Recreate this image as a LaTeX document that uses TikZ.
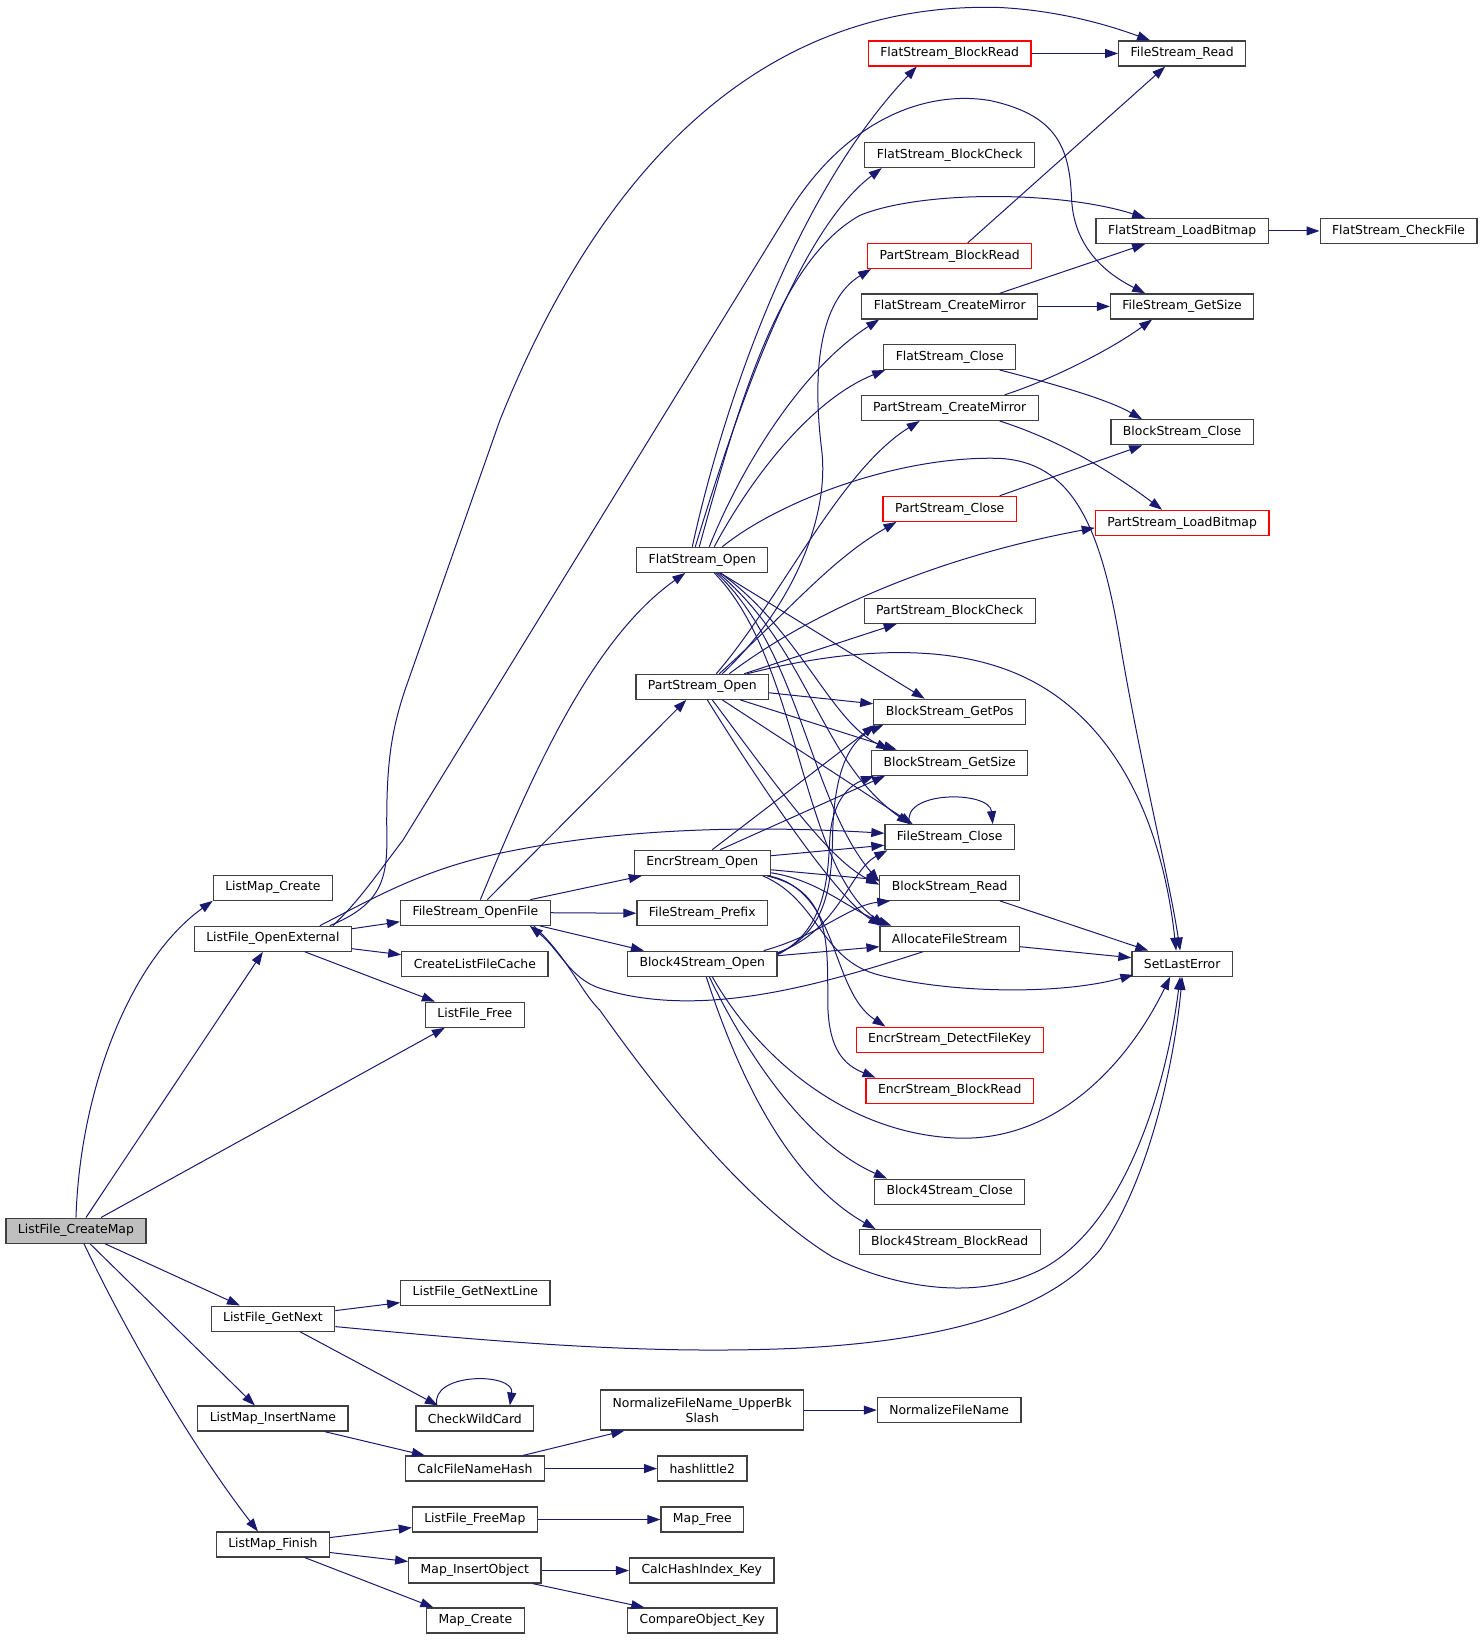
\documentclass[tikz,border=0pt]{standalone}
\usepackage{fontspec}
\setmainfont{DejaVu Sans}
\usetikzlibrary{arrows.meta,calc}
\definecolor{edgeblue}{HTML}{191970}
\definecolor{boxgray}{HTML}{404040}
\definecolor{rootfill}{HTML}{BFBFBF}
\begin{document}
\begin{tikzpicture}[x=0.5pt,y=-0.5pt,
  fnbox/.style={draw=boxgray, line width=0.6pt, fill=white, inner xsep=6pt, inner ysep=0pt,
    minimum height=12.5pt, font=\fontsize{6.2pt}{7.4pt}\selectfont, text=black},
  fnred/.style={fnbox, draw=red},
  fnroot/.style={fnbox, fill=rootfill},
  calledge/.style={draw=edgeblue, line width=0.5pt, -{Triangle[length=6.5pt,width=4.5pt]}}]
\fill[white] (0,0) rectangle (1484,1640);
% ---- nodes
\node[fnroot] (cm) at (76,1230.5) {ListFile\_CreateMap};
\node[fnbox] (lmc) at (273,887.5) {ListMap\_Create};
\node[fnbox] (loe) at (273,938.5) {ListFile\_OpenExternal};
\node[fnbox] (fso) at (475.5,912.5) {FileStream\_OpenFile};
\node[fnbox] (clc) at (475,963.5) {CreateListFileCache};
\node[fnbox] (lff) at (475,1014.5) {ListFile\_Free};
\node[fnbox] (eo) at (702.5,862.5) {EncrStream\_Open};
\node[fnbox] (fsp) at (702.5,913) {FileStream\_Prefix};
\node[fnbox] (b4o) at (702.5,963.5) {Block4Stream\_Open};
\node[fnbox] (fo) at (702.5,559.5) {FlatStream\_Open};
\node[fnbox] (po) at (702.5,686.5) {PartStream\_Open};
\node[fnred] (fbr) at (950,53) {FlatStream\_BlockRead};
\node[fnbox] (fbc) at (950,154.5) {FlatStream\_BlockCheck};
\node[fnred] (pbr) at (950,255.5) {PartStream\_BlockRead};
\node[fnbox] (fcm) at (950,306) {FlatStream\_CreateMirror};
\node[fnbox] (fcl) at (950,356.5) {FlatStream\_Close};
\node[fnbox] (pcm) at (950,407.5) {PartStream\_CreateMirror};
\node[fnred] (pcl) at (950,508.5) {PartStream\_Close};
\node[fnbox] (pbc) at (950,610.5) {PartStream\_BlockCheck};
\node[fnbox] (bgp) at (950,711.5) {BlockStream\_GetPos};
\node[fnbox] (bgs) at (950,762.5) {BlockStream\_GetSize};
\node[fnbox] (fcl2) at (950,837) {FileStream\_Close};
\node[fnbox] (brd) at (950,887.5) {BlockStream\_Read};
\node[fnbox] (afs) at (950,938.5) {AllocateFileStream};
\node[fnred] (edk) at (950,1039.5) {EncrStream\_DetectFileKey};
\node[fnred] (ebr) at (950,1090.5) {EncrStream\_BlockRead};
\node[fnbox] (b4c) at (950,1191.5) {Block4Stream\_Close};
\node[fnbox] (b4r) at (950,1242) {Block4Stream\_BlockRead};
\node[fnbox] (fsr) at (1182.5,53) {FileStream\_Read};
\node[fnbox] (flb) at (1182.5,230.5) {FlatStream\_LoadBitmap};
\node[fnbox] (fcf) at (1399,230.5) {FlatStream\_CheckFile};
\node[fnbox] (fgs) at (1182.5,306) {FileStream\_GetSize};
\node[fnbox] (bcl) at (1182.5,432) {BlockStream\_Close};
\node[fnred] (plb) at (1182.5,522.5) {PartStream\_LoadBitmap};
\node[fnbox] (sle) at (1182.5,963.5) {SetLastError};
\node[fnbox] (lgn) at (273,1318.5) {ListFile\_GetNext};
\node[fnbox] (lmi) at (273,1418.5) {ListMap\_InsertName};
\node[fnbox] (lmf) at (273,1544.5) {ListMap\_Finish};
\node[fnbox] (lgl) at (475.5,1292.5) {ListFile\_GetNextLine};
\node[fnbox] (cwc) at (475,1418.5) {CheckWildCard};
\node[fnbox] (cfh) at (475,1468.5) {CalcFileNameHash};
\node[fnbox] (lfm) at (475,1519.5) {ListFile\_FreeMap};
\node[fnbox] (mio) at (475,1570.5) {Map\_InsertObject};
\node[fnbox] (mcr) at (475.5,1620.5) {Map\_Create};
\node[fnbox, minimum height=20pt, align=center] (nub) at (702.5,1410) {NormalizeFileName\_UpperBk\\Slash};
\node[fnbox] (hl2) at (702.5,1468.5) {hashlittle2};
\node[fnbox] (mfr) at (702.5,1519.5) {Map\_Free};
\node[fnbox] (chk) at (702,1570.5) {CalcHashIndex\_Key};
\node[fnbox] (cok) at (702.5,1620.5) {CompareObject\_Key};
\node[fnbox] (nfn) at (949.5,1410) {NormalizeFileName};
% ---- edges from ListFile_CreateMap
\draw[calledge] (cm.north) .. controls (80,1090) and (130,960) .. (lmc.south west);
\draw[calledge] ($(cm.north)+(10,0)$) -- ($(loe.south)+(-10,0)$);
\draw[calledge] ($(cm.north)+(25,0)$) -- ($(lff.south)+(-30,0)$);
\draw[calledge] ($(cm.south)+(29,0)$) -- ($(lgn.north)+(-33,0)$);
\draw[calledge] ($(cm.south)+(14,0)$) -- ($(lmi.north)+(-18,0)$);
\draw[calledge] ($(cm.south)+(8,0)$) .. controls (130,1340) and (195,1450) .. ($(lmf.north)+(-15,0)$);
% ---- ListFile_OpenExternal
\draw[calledge] ($(loe.east)+(0,-10)$) -- ($(fso.west)+(0,9)$);
\draw[calledge] ($(loe.east)+(0,10)$) -- ($(clc.west)+(0,-9)$);
\draw[calledge] ($(loe.south)+(32,0)$) -- ($(lff.north)+(-40,0)$);
\draw[calledge] ($(loe.north)+(57,0)$) .. controls (380,905) and (387,880) .. (387,840) .. controls (386,770) and (390,735) .. (405,690) -- (500,420) .. controls (600,170) and (760,0) .. (1000,7) .. controls (1060,10) and (1110,25) .. ($(fsr.north)+(-32,0)$);
\draw[calledge] ($(loe.north)+(60,0)$) .. controls (360,900) and (380,870) .. (403,840) -- (790,210) .. controls (850,115) and (930,90) .. (990,100) .. controls (1060,115) and (1070,150) .. (1072,200) .. controls (1075,250) and (1110,275) .. ($(fgs.north)+(-37,0)$);
\draw[calledge] ($(loe.north)+(47,0)$) .. controls (370,900) and (420,870) .. (500,853) .. controls (580,836) and (700,822) .. ($(fcl2.west)+(0,-4)$);
% ---- FileStream_OpenFile
\draw[calledge] ($(fso.north)+(5,0)$) .. controls (530,780) and (590,640) .. ($(fo.south)+(-17,0)$);
\draw[calledge] ($(fso.north)+(12,0)$) -- ($(po.south)+(-16,0)$);
\draw[calledge] ($(fso.north)+(55,0)$) -- ($(eo.south west)+(8,0)$);
\draw[calledge] (fso.east) -- (fsp.west);
\draw[calledge] ($(fso.south east)+(-11,0)$) -- ($(b4o.north west)+(17,0)$);
\draw[calledge] ($(fso.south east)+(-17,0)$) .. controls (570,960) and (580,990) .. (600,1010) .. controls (650,1080) and (740,1200) .. (833,1257) .. controls (900,1290) and (980,1300) .. (1040,1270) .. controls (1120,1230) and (1165,1100) .. ($(sle.south)+(-2,0)$);
\draw[calledge] ($(afs.south)+(-27,0)$) .. controls (820,985) and (700,1020) .. (600,988) .. controls (570,978) and (560,950) .. ($(fso.south east)+(-21,0)$);
% ---- FlatStream_Open
\draw[calledge] ($(fo.north)+(-10,0)$) .. controls (720,420) and (790,200) .. ($(fbr.south)+(-33,0)$);
\draw[calledge] ($(fo.north)+(-7,0)$) .. controls (740,400) and (800,230) .. ($(fbc.south)+(-68,0)$);
\draw[calledge] ($(fo.north)+(-3,0)$) .. controls (740,400) and (780,260) .. (860,215) .. controls (920,190) and (1060,190) .. ($(flb.north)+(-37,0)$);
\draw[calledge] ($(fo.north)+(7,0)$) .. controls (740,470) and (800,370) .. ($(fcm.south west)+(18,0)$);
\draw[calledge] ($(fo.north)+(12,0)$) .. controls (750,480) and (810,400) .. ($(fcl.south west)+(2,0)$);
\draw[calledge] ($(fo.north)+(20,0)$) .. controls (780,500) and (900,455) .. (1000,458) .. controls (1070,462) and (1100,520) .. (1120,640) .. controls (1140,760) and (1170,880) .. ($(sle.north)+(-2,0)$);
\draw[calledge] ($(fo.south)+(18,0)$) -- ($(bgp.north)+(-25,0)$);
\draw[calledge] ($(fo.south)+(18,0)$) .. controls (800,630) and (830,720) .. ($(bgs.north west)+(18,0)$);
\draw[calledge] ($(fo.south)+(16,0)$) .. controls (810,650) and (820,760) .. ($(fcl2.north)+(-40,0)$);
\draw[calledge] ($(fo.south)+(14,0)$) .. controls (800,650) and (810,800) .. ($(brd.west)+(0,-6)$);
\draw[calledge] ($(fo.south)+(12,0)$) .. controls (800,660) and (800,860) .. ($(afs.north west)+(5,0)$);
% ---- PartStream_Open
\draw[calledge] ($(po.north)+(20,0)$) .. controls (790,610) and (830,520) .. (822,450) .. controls (812,370) and (820,300) .. ($(pbr.south west)+(4,0)$);
\draw[calledge] ($(po.north)+(14,0)$) .. controls (780,600) and (840,470) .. ($(pcm.south)+(-30,0)$);
\draw[calledge] ($(po.north)+(17,0)$) .. controls (790,610) and (830,560) .. ($(pcl.south west)+(14,0)$);
\draw[calledge] ($(po.north)+(27,0)$) .. controls (800,620) and (920,560) .. ($(plb.west)+(0,5)$);
\draw[calledge] ($(po.north)+(42,0)$) -- ($(pbc.south)+(-53,0)$);
\draw[calledge] ($(po.north)+(45,0)$) .. controls (820,655) and (920,640) .. (1000,667) .. controls (1100,700) and (1160,800) .. ($(sle.north)+(-6,0)$);
\draw[calledge] ($(po.east)+(0,6)$) -- ($(bgp.west)+(0,-8)$);
\draw[calledge] ($(po.south)+(38,0)$) -- ($(bgs.north)+(-53,0)$);
\draw[calledge] ($(po.south)+(20,0)$) -- ($(fcl2.north)+(-37,0)$);
\draw[calledge] ($(po.south)+(10,0)$) .. controls (780,790) and (830,860) .. ($(brd.west)+(0,-3)$);
\draw[calledge] ($(po.south)+(5,0)$) .. controls (770,800) and (840,900) .. ($(afs.north west)+(2,0)$);
% ---- EncrStream_Open
\draw[calledge] ($(eo.north)+(10,0)$) -- ($(bgp.south west)+(2,0)$);
\draw[calledge] ($(eo.north)+(18,0)$) -- ($(bgs.south west)+(14,0)$);
\draw[calledge] ($(eo.east)+(0,-7)$) -- ($(fcl2.west)+(0,8)$);
\draw[calledge] ($(eo.east)+(0,7)$) -- ($(brd.west)+(0,-8)$);
\draw[calledge] ($(eo.east)+(0,10)$) .. controls (820,880) and (850,910) .. ($(afs.north west)+(12,0)$);
\draw[calledge] ($(eo.south east)+(-2,0)$) .. controls (840,890) and (830,990) .. ($(edk.north west)+(30,0)$);
\draw[calledge] ($(eo.south east)+(-4,0)$) .. controls (830,890) and (828,940) .. (828,1000) .. controls (828,1050) and (845,1065) .. ($(ebr.north west)+(10,0)$);
\draw[calledge] ($(eo.south east)+(-8,0)$) .. controls (820,900) and (820,960) .. (880,975) .. controls (950,993) and (1060,995) .. ($(sle.south west)+(2,-2)$);
% ---- Block4Stream_Open
\draw[calledge] ($(b4o.north east)+(0,3)$) .. controls (830,930) and (832,880) .. (833,830) .. controls (835,770) and (850,740) .. ($(bgp.south west)+(10,0)$);
\draw[calledge] ($(b4o.north east)+(0,4)$) .. controls (825,930) and (828,880) .. (830,840) .. controls (832,800) and (850,785) .. ($(bgs.south west)+(3,0)$);
\draw[calledge] ($(b4o.north east)+(0,2)$) .. controls (840,930) and (850,870) .. ($(fcl2.south west)+(3,0)$);
\draw[calledge] ($(b4o.north east)+(-14,0)$) .. controls (820,935) and (850,905) .. ($(brd.south west)+(11,0)$);
\draw[calledge] ($(b4o.east)+(0,-8)$) -- ($(afs.west)+(0,8)$);
\draw[calledge] ($(b4o.south)+(10,0)$) .. controls (760,1060) and (850,1135) .. (960,1138) .. controls (1060,1140) and (1130,1060) .. ($(sle.south)+(-12,0)$);
\draw[calledge] ($(b4o.south)+(7,0)$) .. controls (740,1040) and (800,1140) .. ($(b4c.north west)+(13,0)$);
\draw[calledge] ($(b4o.south)+(4,0)$) .. controls (740,1080) and (790,1180) .. ($(b4r.north west)+(17,0)$);
% ---- right side
\draw[calledge] ($(fcl2.north)+(-40,0)$) .. controls (900,790) and (990,790) .. ($(fcl2.north)+(43,0)$);
\draw[calledge] ($(brd.south)+(50,0)$) -- ($(sle.north west)+(17,0)$);
\draw[calledge] ($(afs.east)+(0,8)$) -- ($(sle.west)+(0,-6)$);
\draw[calledge] (fbr.east) -- (fsr.west);
\draw[calledge] ($(pbr.north)+(18,0)$) -- ($(fsr.south)+(-17,0)$);
\draw[calledge] (flb.east) -- (fcf.west);
\draw[calledge] ($(fcm.north)+(50,0)$) -- ($(flb.south)+(-37,0)$);
\draw[calledge] (fcm.east) -- (fgs.west);
\draw[calledge] ($(pcm.north)+(55,0)$) .. controls (1050,380) and (1110,350) .. ($(fgs.south)+(-30,0)$);
\draw[calledge] ($(pcm.south)+(50,0)$) .. controls (1060,440) and (1110,470) .. ($(plb.north)+(-20,0)$);
\draw[calledge] ($(fcl.south)+(50,0)$) .. controls (1060,385) and (1110,400) .. ($(bcl.north)+(-40,0)$);
\draw[calledge] ($(pcl.north)+(50,0)$) -- ($(bcl.south)+(-40,0)$);
% ---- bottom part
\draw[calledge] ($(lgn.east)+(0,-8)$) -- ($(lgl.west)+(0,10)$);
\draw[calledge] ($(lgn.east)+(0,8)$) .. controls (500,1342) and (650,1355) .. (800,1348) .. controls (950,1340) and (1050,1310) .. (1100,1250) .. controls (1150,1180) and (1175,1060) .. (sle.south);
\draw[calledge] ($(lgn.south)+(27,0)$) -- ($(cwc.north)+(-37,0)$);
\draw[calledge] ($(cwc.north)+(-38,0)$) .. controls (430,1372) and (515,1372) .. ($(cwc.north)+(35,0)$);
\draw[calledge] ($(lmi.south)+(52,0)$) -- ($(cfh.north)+(-50,0)$);
\draw[calledge] ($(cfh.north)+(48,0)$) -- ($(nub.south)+(-78,0)$);
\draw[calledge] (cfh.east) -- (hl2.west);
\draw[calledge] (nub.east) -- (nfn.west);
\draw[calledge] ($(lmf.east)+(0,-7)$) -- ($(lfm.west)+(0,8)$);
\draw[calledge] ($(lmf.east)+(0,8)$) -- ($(mio.west)+(0,-9)$);
\draw[calledge] ($(lmf.south)+(32,0)$) -- ($(mcr.north)+(-42,0)$);
\draw[calledge] (lfm.east) -- (mfr.west);
\draw[calledge] (mio.east) -- (chk.west);
\draw[calledge] ($(mio.south)+(58,0)$) -- ($(cok.north)+(-58,0)$);
\end{tikzpicture}
\end{document}
